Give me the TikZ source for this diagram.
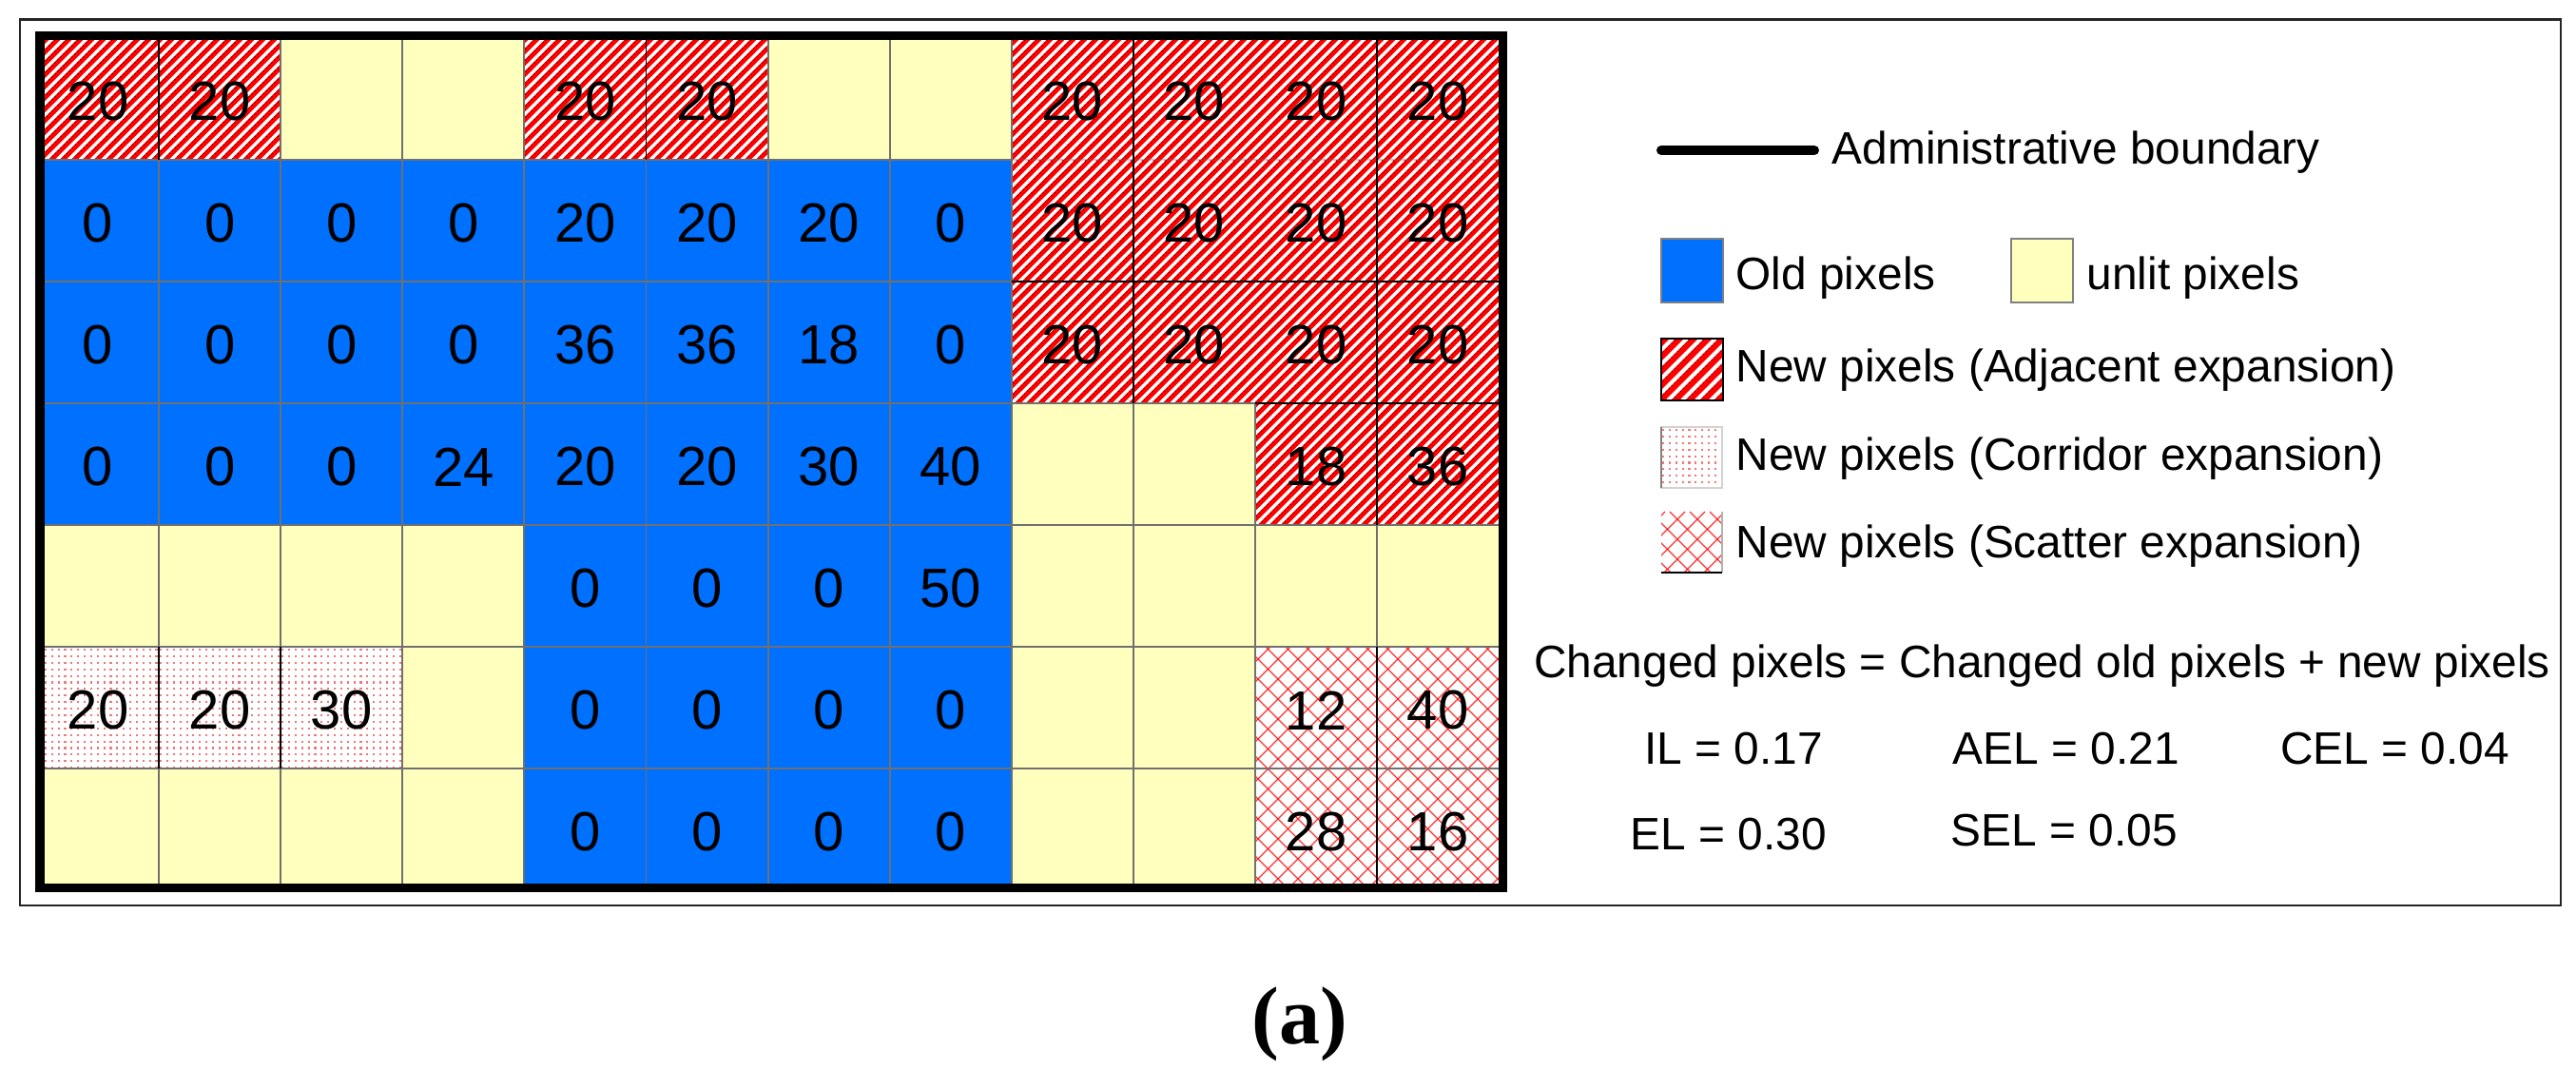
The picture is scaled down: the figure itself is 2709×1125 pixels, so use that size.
\documentclass[tikz,border=0pt]{standalone}
\usepackage{fontspec}
\setmainfont{Liberation Sans}
\newfontfamily\capfont{Liberation Serif}
\definecolor{oldblue}{HTML}{0070FF}
\definecolor{unlit}{HTML}{FFFFBE}
\definecolor{gridgray}{HTML}{707070}
\definecolor{hred}{HTML}{FF0000}
\definecolor{dotred}{HTML}{F07878}

% adjacent-expansion hatch: x0 y0 x1 y1 period whitewidth
\newcommand\hatchA[6]{%
  \fill[hred] (#1,#2) rectangle (#3,#4);
  \begin{scope}
    \clip (#1,#2) rectangle (#3,#4);
    \pgfmathtruncatemacro\ks{floor((#1+#2)/#5)-1}%
    \pgfmathtruncatemacro\ke{ceil((#3+#4)/#5)+1}%
    \foreach \k in {\ks,...,\ke}{%
      \pgfmathsetmacro\cc{\k*#5}%
      \draw[white, line width=#6] (\cc-#4,#4) -- (\cc-#2,#2);
      \draw[black, line width=0.22pt, dash pattern=on 0.5pt off 0.7pt, opacity=0.6] (\cc-#4+3.8,#4) -- (\cc-#2+3.8,#2);
    }
  \end{scope}
}
% scatter-expansion cross hatch
\newcommand\hatchS[4]{%
  \fill[white] (#1,#2) rectangle (#3,#4);
  \begin{scope}
    \clip (#1,#2) rectangle (#3,#4);
    \pgfmathtruncatemacro\ks{floor((#1+#2)/21)-1}%
    \pgfmathtruncatemacro\ke{ceil((#3+#4)/21)+1}%
    \foreach \k in {\ks,...,\ke}{%
      \pgfmathsetmacro\cc{\k*21}%
      \draw[hred, line width=0.36pt, opacity=0.8] (\cc-#4,#4) -- (\cc-#2,#2);
    }
    \pgfmathtruncatemacro\ms{floor((#1-#4)/21)-1}%
    \pgfmathtruncatemacro\me{ceil((#3-#2)/21)+1}%
    \foreach \k in {\ms,...,\me}{%
      \pgfmathsetmacro\cc{\k*21}%
      \draw[hred, line width=0.36pt, opacity=0.8] (\cc+#2,#2) -- (\cc+#4,#4);
    }
  \end{scope}
}
% corridor-expansion dots
\newcommand\hatchC[4]{%
  \fill[white] (#1,#2) rectangle (#3,#4);
  \begin{scope}
    \clip (#1,#2) rectangle (#3,#4);
    \foreach \m in {0,...,19}{%
      \draw[dotred, line width=0.6pt, dash pattern=on 0.6pt off 1.35pt] (#1+1,#2+3+\m*6.9) -- (#3+5,#2+3+\m*6.9);
    }
  \end{scope}
}
\newcommand\pxfillO{\fill[oldblue] (\xa,\ya) rectangle (\xb,\yb);}
\newcommand\pxfillU{\fill[unlit] (\xa,\ya) rectangle (\xb,\yb);}
\newcommand\pxfillA{\hatchA{\xa}{\ya}{\xb}{\yb}{12}{0.95pt}}
\newcommand\pxfillS{\hatchS{\xa}{\ya}{\xb}{\yb}}
\newcommand\pxfillC{\hatchC{\xa}{\ya}{\xb}{\yb}}
\newcommand\pxcell[4]{%
  \pgfmathsetmacro\xa{39+128.1*(#1-1)}%
  \pgfmathsetmacro\xb{39+128.1*#1}%
  \pgfmathsetmacro\ya{40+128*(#2-1)}%
  \pgfmathsetmacro\yb{40+128*#2}%
  \csname pxfill#3\endcsname
}
\newcommand\pxnum[4]{%
  \if#3U\else
    \pgfmathsetmacro\xc{39+128.1*(#1-0.5)}%
    \pgfmathsetmacro\yc{40+128*(#2-0.5)+3}%
    \node[numtxt] (v#2-#1) at (\xc,\yc) {#4};
  \fi
}
\newcommand\doRows[1]{%
  \foreach \t/\v [count=\c] in {A/20,A/20,U/0,U/0,A/20,A/20,U/0,U/0,A/20,A/20,A/20,A/20}{#1{\c}{1}{\t}{\v}}
  \foreach \t/\v [count=\c] in {O/0,O/0,O/0,O/0,O/20,O/20,O/20,O/0,A/20,A/20,A/20,A/20}{#1{\c}{2}{\t}{\v}}
  \foreach \t/\v [count=\c] in {O/0,O/0,O/0,O/0,O/36,O/36,O/18,O/0,A/20,A/20,A/20,A/20}{#1{\c}{3}{\t}{\v}}
  \foreach \t/\v [count=\c] in {O/0,O/0,O/0,O/24,O/20,O/20,O/30,O/40,U/0,U/0,A/18,A/36}{#1{\c}{4}{\t}{\v}}
  \foreach \t/\v [count=\c] in {U/0,U/0,U/0,U/0,O/0,O/0,O/0,O/50,U/0,U/0,U/0,U/0}{#1{\c}{5}{\t}{\v}}
  \foreach \t/\v [count=\c] in {C/20,C/20,C/30,U/0,O/0,O/0,O/0,O/0,U/0,U/0,S/12,S/40}{#1{\c}{6}{\t}{\v}}
  \foreach \t/\v [count=\c] in {U/0,U/0,U/0,U/0,O/0,O/0,O/0,O/0,U/0,U/0,S/28,S/16}{#1{\c}{7}{\t}{\v}}
}

\begin{document}
\begin{tikzpicture}[x=0.01cm,y=-0.01cm,
  numtxt/.style={font=\fontsize{16.5}{19}\selectfont, inner sep=0pt},
  legtxt/.style={font=\fontsize{13.6}{16}\selectfont, inner sep=0pt, anchor=base west},
  gline/.style={draw=gridgray, line width=0.55pt},
  bline/.style={draw=black, line width=0.45pt},
  swatch/.style={draw=gray, line width=0.7pt}]
\useasboundingbox (0,0) rectangle (2709,1125);
\fill[white] (0,0) rectangle (2709,1125);
% outer frame
\draw[black!85, line width=0.6pt] (21,20.5) rectangle (2693,952);
% cells
\doRows\pxcell
% grid lines
\foreach \k in {1,...,9,11} {\draw[gline] (39+128.1*\k,40) -- (39+128.1*\k,936);}
\draw[gline] (39+128.1*10,424) -- (39+128.1*10,936);
\foreach \j in {2,...,6} {\draw[gline] (39,40+128*\j) -- (1576.2,40+128*\j);}
\draw[gline] (39,168) -- (1063.8,168);
\draw[gline, draw opacity=0.3] (1063.8,168) -- (1576.2,168);
% black separators inside hatched blocks
\draw[bline] (167.1,40) -- (167.1,168);
\draw[bline] (679.5,40) -- (679.5,168);
\draw[bline] (1191.9,40) -- (1191.9,424);
\draw[bline] (1448.1,40) -- (1448.1,552);
\draw[bline] (1448.1,680) -- (1448.1,936);
\draw[bline] (167.1,680) -- (167.1,808);
\draw[bline] (295.2,680) -- (295.2,808);
\draw[bline] (1063.8,296) -- (1576.2,296);
\draw[bline] (1320,424) -- (1576.2,424);
% administrative boundary
\draw[line width=2.56pt] (42,38) rectangle (1580.5,933);
% values
\doRows\pxnum
% legend
\coordinate (adm1) at (1747,158);
\coordinate (adm2) at (1908,158);
\draw[line width=2.85pt, line cap=round] (adm1) -- (adm2);
\node[legtxt] (admt) at (1926,172.7) {Administrative boundary};
\filldraw[fill=oldblue, swatch] (1747,251) rectangle (1812,318);
\node[legtxt] (oldt) at (1825,305) {Old pixels};
\filldraw[fill=unlit, swatch] (2115,251) rectangle (2180,318);
\node[legtxt] (unlitt) at (2194,305) {unlit pixels};
\hatchA{1747}{356}{1812}{421}{15}{1.15pt}
\draw[black, line width=0.7pt] (1747,356) rectangle (1812,421);
\node[legtxt] (adjt) at (1825,401.7) {New pixels (Adjacent expansion)};
\hatchC{1747}{449}{1811}{513}
\draw[gray!35, line width=0.4pt] (1747,449) rectangle (1811,513);
\draw[gray, line width=0.6pt] (1747,449) -- (1747,513);
\node[legtxt] (cort) at (1825,495) {New pixels (Corridor expansion)};
\hatchS{1747}{538}{1811}{602}
\draw[gray!60, line width=0.5pt] (1811,538) -- (1811,602);
\draw[black, line width=0.7pt] (1747,602) -- (1811,602);
\node[legtxt] (scat) at (1825,586.5) {New pixels (Scatter expansion)};
\node[legtxt, anchor=base] (chg) at (2147.5,712) {Changed pixels = Changed old pixels + new pixels};
\node[legtxt] (il) at (1728.5,803) {IL = 0.17};
\node[legtxt] (ael) at (2053,803) {AEL = 0.21};
\node[legtxt] (cel) at (2397.5,803) {CEL = 0.04};
\node[legtxt] (el) at (1714,893) {EL = 0.30};
\node[legtxt] (sel) at (2051,889) {SEL = 0.05};
% caption
\node[font=\capfont\bfseries\fontsize{24.5}{29}\selectfont, inner sep=0pt, anchor=base] (cap) at (1367,1097) {(a)};
\end{tikzpicture}
\end{document}
